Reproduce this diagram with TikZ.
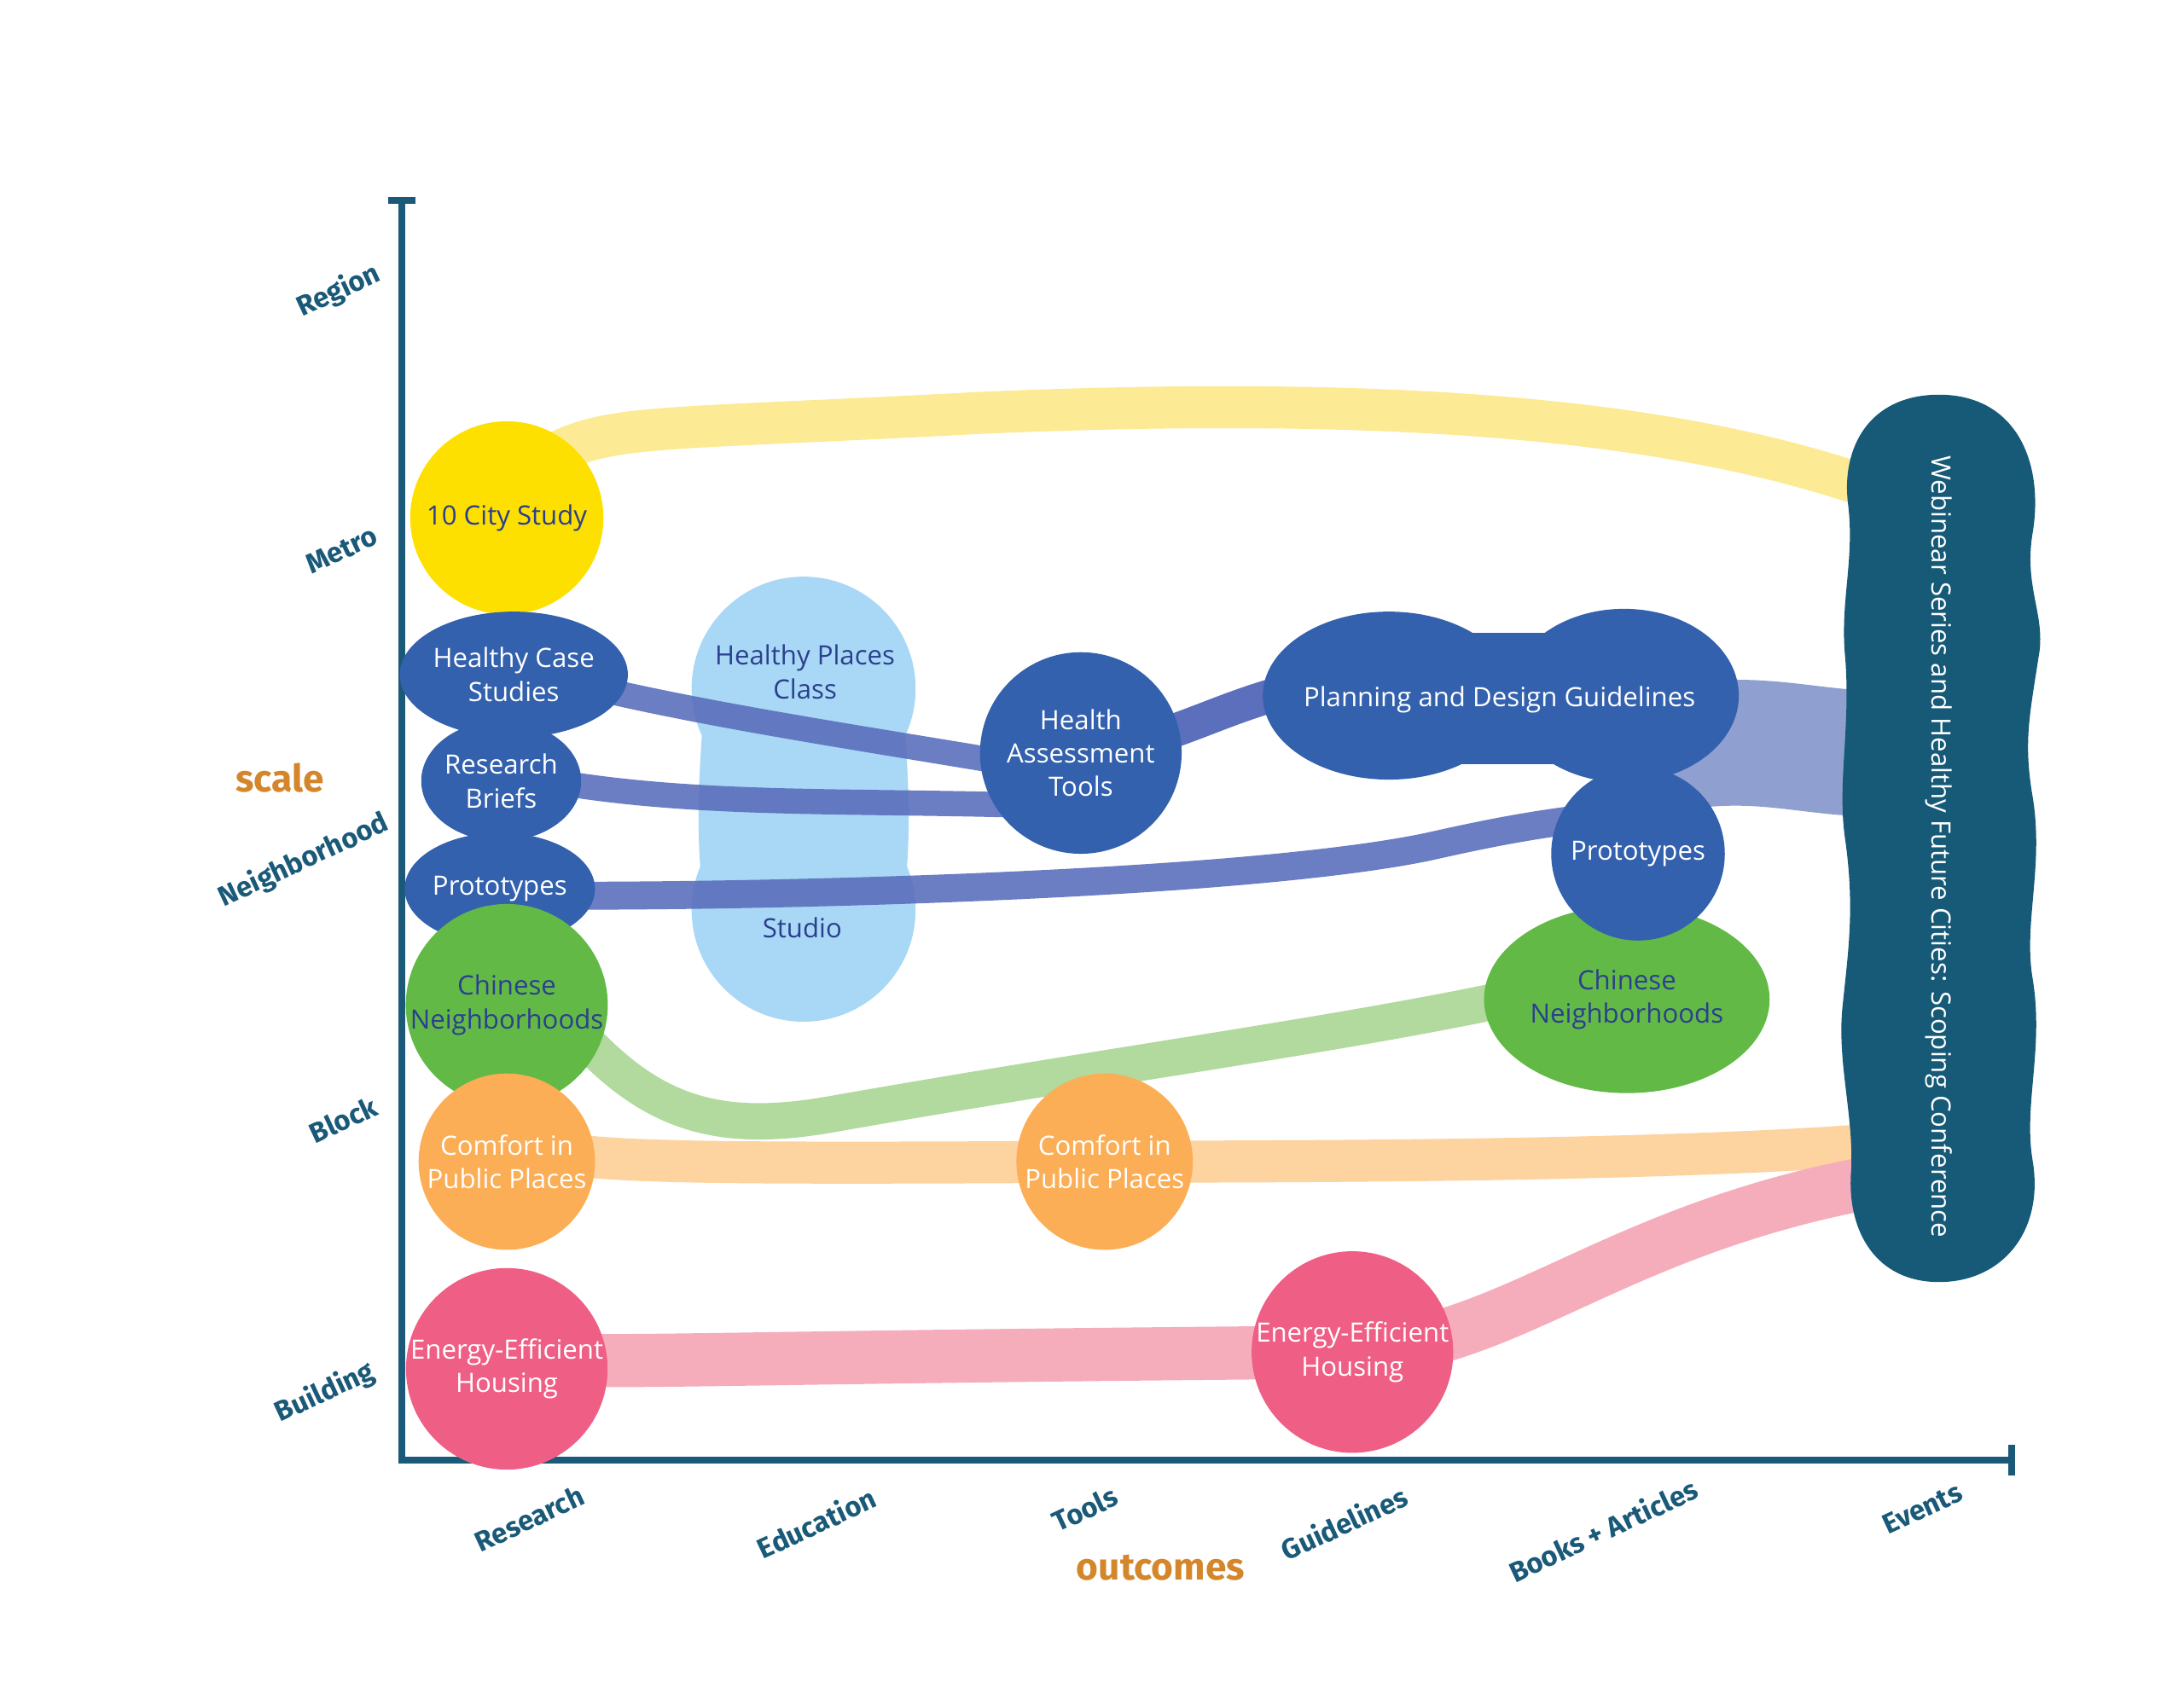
\documentclass[tikz,border=0pt]{standalone}
\usepackage{fontspec}
\setmainfont{Open Sans}
\newfontfamily\axfont{Fira Sans}
\usetikzlibrary{shapes.geometric}
\definecolor{axc}{HTML}{1A5A78}
\definecolor{orc}{HTML}{D4862A}
\definecolor{nblue}{HTML}{3361AD}
\definecolor{bband}{HTML}{5B6FBD}
\definecolor{tdark}{HTML}{2B3F8F}
\definecolor{yel}{HTML}{FDE000}
\definecolor{yband}{HTML}{FDEA95}
\definecolor{grn}{HTML}{62B946}
\definecolor{gband}{HTML}{B2DA9E}
\definecolor{org}{HTML}{FBAE55}
\definecolor{oband}{HTML}{FDD3A0}
\definecolor{pnk}{HTML}{EF5F85}
\definecolor{pband}{HTML}{F5ADBB}
\definecolor{lblue}{HTML}{A8D8F5}
\definecolor{web}{HTML}{175A78}
\definecolor{lav}{HTML}{8FA0D0}
\tikzset{
 axlab/.style={font=\axfont\bfseries\fontsize{20}{22}\selectfont, text=axc, rotate=25},
 ttl/.style={font=\axfont\bfseries\fontsize{27}{30}\selectfont, text=orc},
 band/.style={line width=#1, line cap=round},
 ntext/.style={font=\fontsize{19}{24}\selectfont, align=center, inner sep=0pt},
 circ/.style={circle, minimum size=#1, inner sep=0pt, font=\fontsize{19}{24}\selectfont, align=center},
 ell/.style={ellipse, inner sep=0pt, font=\fontsize{19}{24}\selectfont, align=center},
}
\begin{document}
\begin{tikzpicture}[x=1pt,y=-1pt]
\useasboundingbox (0,0) rectangle (1560,1205);
% axes
\draw[axc, line width=5] (277,143) -- (297,143);
\draw[axc, line width=5] (287,143) -- (287,1043) -- (1437,1043);
\draw[axc, line width=5] (1437,1032) -- (1437,1054);
\node[axlab] (lr) at (242,208) {Region};
\node[axlab] (lm) at (244,393) {Metro};
\node[axlab] (ln) at (217,615) {Neighborhood};
\node[axlab] (lb) at (245,800) {Block};
\node[axlab] (lbu) at (232,995) {Building};
\node[ttl] (sc) at (200,556) {scale};
\node[axlab] (c1) at (378,1085) {Research};
\node[axlab] (c2) at (583,1088) {Education};
\node[axlab] (c3) at (775,1078) {Tools};
\node[axlab] (c4) at (960,1088) {Guidelines};
\node[axlab] (c5) at (1145,1093) {Books + Articles};
\node[axlab] (c6) at (1373,1078) {Events};
\node[ttl] (oc) at (829,1120) {outcomes};
% light blue peanut
\fill[lblue] (574,492) circle (80);
\fill[lblue] (574,650) circle (80);
\fill[lblue] (504,492) .. controls (500,540) and (495,600) .. (504,650) -- (644,650) .. controls (653,600) and (648,540) .. (644,492) -- cycle;
\coordinate (hpc) at (574,570);
% bands
\draw[yband, band=30] (362,345) .. controls (430,300) and (420,310) .. (700,295) .. controls (1000,282) and (1200,300) .. (1340,350);
\draw[lav, band=90, line cap=butt] (1190,535) .. controls (1250,525) and (1280,535) .. (1325,538);
\draw[bband, opacity=0.9, band=18] (410,488) .. controls (500,510) and (600,525) .. (720,545);
\draw[bband, opacity=0.9, band=18] (405,560) .. controls (500,575) and (600,572) .. (720,575);
\draw[bband, band=24] (830,525) .. controls (860,515) and (880,505) .. (915,495);
\draw[bband, opacity=0.9, band=20] (405,640) .. controls (600,640) and (900,630) .. (1020,605) .. controls (1060,596) and (1090,590) .. (1130,585);
\draw[gband, band=26] (415,740) .. controls (470,800) and (520,810) .. (600,795) .. controls (800,760) and (950,740) .. (1070,715);
\draw[oband, band=30] (362,818) .. controls (430,830) and (440,832) .. (789,830) .. controls (1000,830) and (1200,828) .. (1335,818);
\draw[pband, band=38] (362,970) .. controls (440,975) and (480,970) .. (966,966) .. controls (1080,960) and (1150,880) .. (1335,845);
% nodes
\node[circ=138, fill=yel, text=tdark] (city) at (362,370) {10 City Study};
\node[ell, fill=nblue, text=white, minimum width=140, minimum height=90] (hcs) at (367,482) {Healthy Case\\Studies};
\node[ell, fill=nblue, text=white, minimum width=114, minimum height=86] (rb) at (358,558) {Research\\Briefs};
\node[ell, fill=nblue, text=white, minimum width=116, minimum height=80] (pl) at (357,635) {Prototypes};
\node[circ=140, fill=grn, text=tdark] (cnl) at (362,718) {Chinese\\Neighborhoods};
\node[circ=126, fill=org, text=white] (cpl) at (362,830) {Comfort in\\Public Places};
\node[circ=144, fill=pnk, text=white] (eel) at (362,978) {Energy-Efficient\\Housing};
\node[ntext, text=tdark] (hpt) at (575,480) {Healthy Places\\Class};
\node[ntext, text=tdark] (st) at (573,663) {Studio};
\node[circ=144, fill=nblue, text=white] (hat) at (772,538) {Health\\Assessment\\Tools};
\fill[nblue] (992,497) ellipse (90 and 60);
\fill[nblue] (1160,497) ellipse (82 and 62);
\fill[nblue] (990,452) rectangle (1160,546);
\node[ntext, text=white] (pdg) at (1071,500) {Planning and Design Guidelines};
\node[ell, fill=grn, text=tdark, minimum width=204, minimum height=134] (cnr) at (1162,714) {Chinese\\Neighborhoods};
\node[circ=124, fill=nblue, text=white] (pr) at (1170,610) {Prototypes};
\node[circ=126, fill=org, text=white] (cpr) at (789,830) {Comfort in\\Public Places};
\node[circ=144, fill=pnk, text=white] (eer) at (966,966) {Energy-Efficient\\Housing};
% webinar blob
\fill[web] (1385,282) .. controls (1440,282) and (1460,330) .. (1452,380)
 .. controls (1445,420) and (1462,440) .. (1456,470) .. controls (1450,510) and (1445,530) .. (1452,570)
 .. controls (1460,620) and (1445,660) .. (1452,700) .. controls (1460,750) and (1445,790) .. (1452,830)
 .. controls (1460,880) and (1430,916) .. (1385,916) .. controls (1340,916) and (1320,880) .. (1322,840)
 .. controls (1325,800) and (1312,760) .. (1316,720) .. controls (1320,680) and (1325,650) .. (1318,600)
 .. controls (1312,560) and (1322,520) .. (1318,470) .. controls (1314,430) and (1325,400) .. (1320,360)
 .. controls (1315,320) and (1335,282) .. (1385,282) -- cycle;
\node[ntext, text=white, rotate=-90] (web) at (1385,605) {Webinear Series and Healthy Future Cities: Scoping Conference};
\end{tikzpicture}
\end{document}
